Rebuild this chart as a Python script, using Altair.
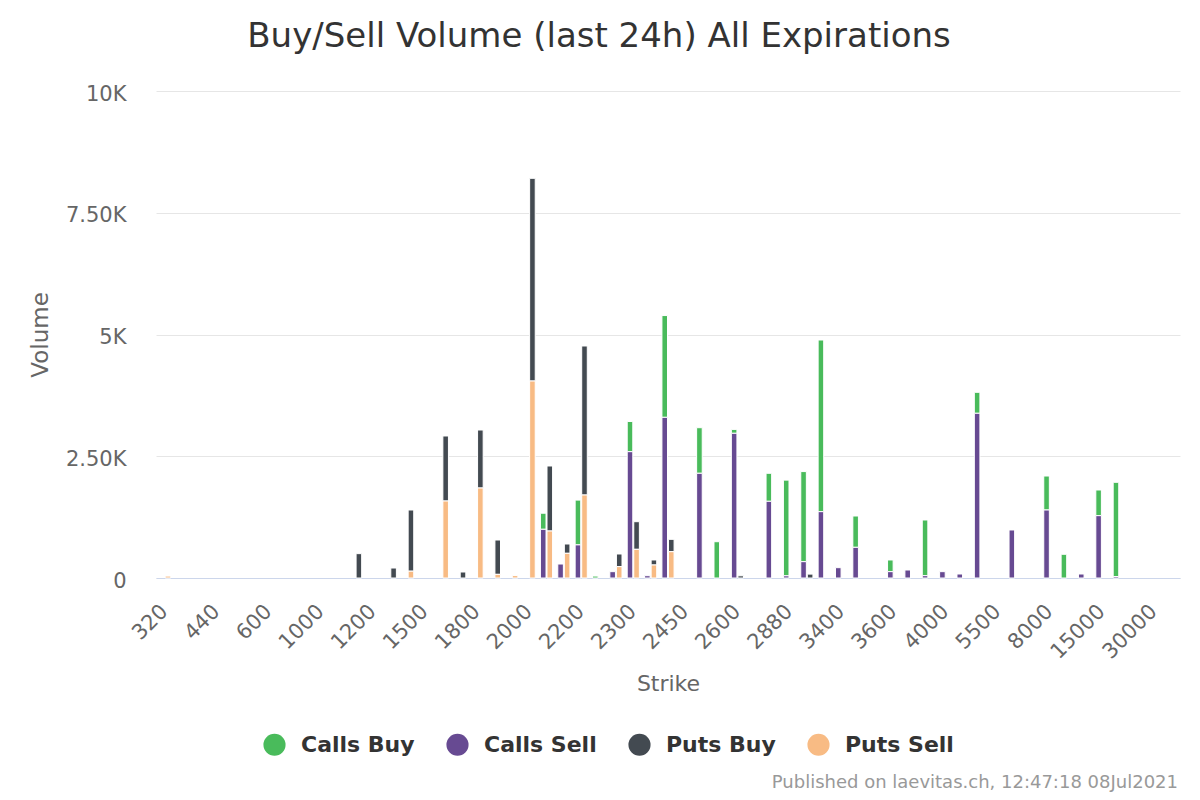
import altair as alt
import pandas as pd

# ---- data -------------------------------------------------------------------
strikes = ["320", "360", "400", "440", "480", "520", "600", "700", "800", "1000",
           "1100", "1150", "1200", "1300", "1400", "1500", "1600", "1700", "1800", "1900",
           "1950", "2000", "2100", "2150", "2200", "2240", "2250", "2300", "2350", "2400",
           "2450", "2500", "2550", "2600", "2700", "2800", "2880", "3000", "3200", "3400",
           "3500", "3550", "3600", "3800", "3900", "4000", "4500", "5000", "5500", "6000",
           "7000", "8000", "10000", "12000", "15000", "20000", "25000", "30000", "35000"]

tick_labels = ["320", "440", "600", "1000", "1200", "1500", "1800", "2000", "2200", "2300",
               "2450", "2600", "2880", "3400", "3600", "4000", "5500", "8000", "15000", "30000"]

calls_buy = [0, 0, 0, 0, 0, 0, 0, 0, 0, 0,
             0, 0, 0, 0, 0, 0, 0, 0, 0, 0,
             0, 0, 330, 0, 920, 40, 0, 620, 0, 2090,
             0, 936, 745, 80, 0, 575, 1965, 1850, 3525, 0,
             643, 0, 240, 0, 1143, 0, 0, 431, 0, 0,
             0, 698, 487, 0, 527, 1935, 0, 0, 0]

calls_sell = [0, 0, 0, 0, 0, 0, 0, 0, 0, 0,
              0, 0, 0, 0, 0, 0, 0, 0, 0, 0,
              0, 0, 1000, 287, 680, 0, 130, 2594, 47, 3299,
              0, 2150, 0, 2971, 0, 1575, 45, 335, 1362, 212,
              630, 0, 130, 164, 48, 130, 82, 3382, 0, 986,
              0, 1396, 0, 82, 1280, 30, 0, 0, 0]

puts_buy = [0, 0, 0, 0, 0, 0, 0, 0, 0, 0,
            0, 500, 0, 205, 1256, 0, 1335, 123, 1191, 705,
            0, 4162, 1335, 191, 3060, 0, 260, 567, 103, 254,
            0, 0, 0, 45, 0, 0, 0, 80, 0, 0,
            0, 0, 0, 0, 0, 0, 0, 0, 0, 0,
            0, 0, 0, 0, 0, 0, 0, 0, 0]

puts_sell = [40, 0, 0, 0, 0, 0, 0, 0, 0, 0,
             0, 0, 0, 0, 140, 0, 1581, 0, 1848, 75,
             50, 4045, 965, 507, 1704, 0, 233, 589, 267, 540,
             0, 0, 0, 0, 0, 0, 0, 0, 0, 0,
             0, 0, 0, 0, 0, 0, 0, 0, 0, 0,
             0, 0, 0, 0, 0, 0, 0, 0, 0]

series_names = ["Calls Buy", "Calls Sell", "Puts Buy", "Puts Sell"]
series_colors = ["#49bb5b", "#674a92", "#434a51", "#f8bb84"]
title_text = "Buy/Sell Volume (last 24h) All Expirations"
credit_text = "Published on laevitas.ch, 12:47:18 08Jul2021"

# ---- long table ---------------------------------------------------------------
series_def = [("Calls Buy", "Calls", 1, calls_buy),
              ("Calls Sell", "Calls", 0, calls_sell),
              ("Puts Buy", "Puts", 1, puts_buy),
              ("Puts Sell", "Puts", 0, puts_sell)]
rows = []
for i, s in enumerate(strikes):
    for name, grp, order, vals in series_def:
        rows.append({"strike": s, "series": name, "group": grp,
                     "order": order, "value": vals[i]})
df = pd.DataFrame(rows)

FONT = "DejaVu Sans"

y_label_expr = ("datum.value == 0 ? '0' : datum.value == 2500 ? '2.50K' : "
                "datum.value == 5000 ? '5K' : datum.value == 7500 ? '7.50K' : '10K'")

bars = alt.Chart(df).transform_filter("datum.value > 0").transform_stack(
    stack="value", groupby=["strike", "group"], as_=["v0", "v1"],
    sort=[alt.SortField("order", order="ascending")]
).mark_bar(stroke="white", strokeWidth=1).encode(
    x=alt.X("strike:N", sort=strikes,
            scale=alt.Scale(domain=strikes, paddingInner=0.3, paddingOuter=0.15),
            axis=alt.Axis(values=tick_labels, labelAngle=315, labelAlign="right",
                          labelBaseline="middle", labelFontSize=21, labelColor="#666666",
                          labelFont=FONT, labelPadding=30, ticks=False, tickSize=0,
                          domainColor="#ccd6eb", domainWidth=1, grid=False,
                          labelOverlap=False, title="Strike", titleFont=FONT,
                          titleFontSize=22, titleColor="#666666", titleFontWeight="normal",
                          titleX=512, titleY=105, titleAlign="center",
                          titleBaseline="middle")),
    xOffset=alt.XOffset("group:N",
                        scale=alt.Scale(domain=["Calls", "Puts"], paddingInner=0.15,
                                        paddingOuter=0)),
    y=alt.Y("v0:Q", scale=alt.Scale(domain=[0, 10000], nice=False),
            axis=alt.Axis(values=[0, 2500, 5000, 7500, 10000], labelExpr=y_label_expr,
                          domain=False, ticks=False, tickSize=0, grid=True,
                          gridColor="#e6e6e6", gridWidth=1, labelFontSize=21,
                          labelColor="#666666", labelFont=FONT, labelPadding=30,
                          labelOffset=3,
                          title="Volume", titleFont=FONT, titleFontSize=23,
                          titleColor="#666666", titleFontWeight="normal",
                          titleX=-116, titleY=243.5, titleAngle=270, titleAlign="center",
                          titleBaseline="middle")),
    y2="v1:Q",
    color=alt.Color("series:N",
                    scale=alt.Scale(domain=series_names, range=series_colors),
                    legend=alt.Legend(orient="none", legendX=107, legendY=642,
                                      direction="horizontal", columns=4,
                                      symbolType="circle", symbolSize=490,
                                      symbolStrokeWidth=0, symbolOpacity=1,
                                      labelFontSize=22, labelFontWeight="bold",
                                      labelColor="#333333", labelFont=FONT,
                                      labelOffset=15, columnPadding=31,
                                      padding=0, title=None)),
)

credit = alt.Chart(pd.DataFrame({"t": [credit_text]})).mark_text(
    align="right", baseline="middle", fontSize=18, color="#999999", font=FONT
).encode(x=alt.value(1022), y=alt.value(692), text="t:N")

chart = alt.layer(bars, credit).properties(
    width=1024, height=487,
    title=alt.TitleParams(title_text, fontSize=34, font=FONT, fontWeight="normal",
                          color="#333333", anchor="middle", frame="group",
                          dx=-69, offset=2, baseline="alphabetic"),
    autosize=alt.AutoSizeParams(type="none"),
    padding={"left": 148, "top": 83, "right": 12, "bottom": 215},
).configure(font=FONT, background="white").configure_view(
    stroke="transparent", strokeWidth=0)

chart.save("out.html", embed_options={"renderer": "svg", "actions": False})
